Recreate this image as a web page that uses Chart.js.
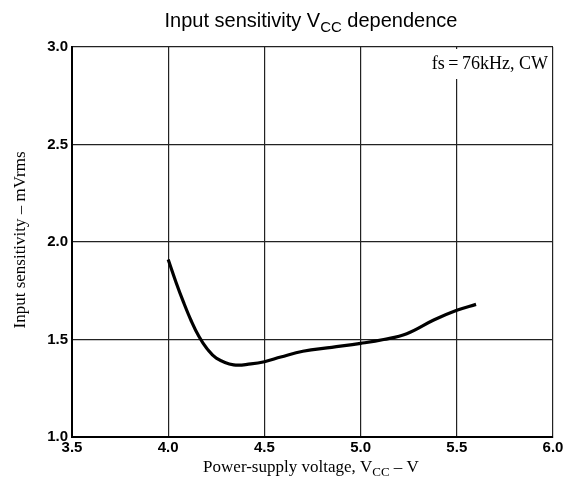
<!DOCTYPE html>
<html>
<head>
<meta charset="utf-8">
<script src="https://cdn.jsdelivr.net/npm/chart.js@4"></script>
<style>
  html, body { margin: 0; padding: 0; background: #fff; }
  #wrap { width: 569px; height: 483px; }
</style>
</head>
<body>
<div id="wrap"><canvas id="chart" width="569" height="483"></canvas></div>
<script>
// Dados
const vcc = [4.0, 4.04, 4.08, 4.12, 4.16, 4.2, 4.25, 4.34, 4.43, 4.5, 4.585, 4.7, 4.85, 5.0, 5.12, 5.24, 5.38, 5.5, 5.6];
const sensitivity = [1.91, 1.795, 1.69, 1.595, 1.515, 1.455, 1.405, 1.37, 1.375, 1.386, 1.41, 1.44, 1.46, 1.48, 1.50, 1.53, 1.60, 1.65, 1.68];
const xRange = [3.5, 6.0];
const yRange = [1.0, 3.0];
const tickStep = 0.5;

// Textos (com subscrito)
const titleParts = [['Input sensitivity V', false], ['CC', true], [' dependence', false]];
const xTitleParts = [['Power-supply voltage, V', false], ['CC', true], [' \u2013 V', false]];
const yTitle = 'Input sensitivity \u2013 mVrms';
const note = 'fs\u2009=\u200976kHz, CW';

const SANS = '"Liberation Sans", Arial, sans-serif';
const SERIF = '"Liberation Serif", "Times New Roman", serif';

function drawParts(ctx, parts, cx, y, size, family) {
    let total = 0;
    parts.forEach(([t, sub]) => {
        ctx.font = `${sub ? Math.round(size * 0.75) : size}px ${family}`;
        total += ctx.measureText(t).width;
    });
    let x = cx - total / 2;
    ctx.textAlign = 'left';
    ctx.textBaseline = 'alphabetic';
    parts.forEach(([t, sub]) => {
        ctx.font = `${sub ? Math.round(size * 0.75) : size}px ${family}`;
        ctx.fillText(t, x, sub ? y + size * 0.25 : y);
        x += ctx.measureText(t).width;
    });
}

const textPlugin = {
    id: 'textos',
    afterDraw(chart) {
        const ctx = chart.ctx;
        const area = chart.chartArea;
        ctx.save();
        ctx.fillStyle = '#000';
        drawParts(ctx, titleParts, 311, 27, 20, SANS);
        drawParts(ctx, xTitleParts, 311, 472, 17, SERIF);

        ctx.save();
        ctx.translate(21, 240);
        ctx.rotate(-Math.PI / 2);
        ctx.font = `17px ${SERIF}`;
        ctx.textAlign = 'center';
        ctx.textBaseline = 'middle';
        ctx.fillText(yTitle, 0, 0);
        ctx.restore();

        ctx.font = `18px ${SERIF}`;
        const w = ctx.measureText(note).width;
        ctx.fillStyle = '#fff';
        ctx.fillRect(area.right - w - 8, area.top + 2, w + 6, 30);
        ctx.fillStyle = '#000';
        ctx.textAlign = 'right';
        ctx.textBaseline = 'alphabetic';
        ctx.fillText(note, area.right - 5, area.top + 22);
        ctx.restore();
    }
};

const ctx = document.getElementById('chart').getContext('2d');
new Chart(ctx, {
    type: 'line',
    data: {
        datasets: [{
            data: vcc.map((v, i) => ({ x: v, y: sensitivity[i] })),
            borderColor: '#000',
            borderWidth: 3.2,
            pointRadius: 0,
            fill: false,
            tension: 0.4
        }]
    },
    options: {
        responsive: false,
        animation: false,
        layout: { padding: { top: 47, right: 16, left: 0, bottom: 0 } },
        plugins: {
            legend: { display: false },
            title: { display: false },
            tooltip: { enabled: false }
        },
        scales: {
            x: {
                type: 'linear',
                min: xRange[0],
                max: xRange[1],
                afterFit: s => { s.height = 46; },
                ticks: {
                    stepSize: tickStep,
                    padding: 2,
                    color: '#000',
                    font: { family: SANS, size: 15, weight: 'bold' },
                    callback: v => v.toFixed(1)
                },
                grid: { color: '#222', lineWidth: 1.2, drawTicks: false },
                border: { color: '#000', width: 2 }
            },
            y: {
                min: yRange[0],
                max: yRange[1],
                afterFit: s => { s.width = 72; },
                ticks: {
                    stepSize: tickStep,
                    padding: 4,
                    color: '#000',
                    font: { family: SANS, size: 15, weight: 'bold' },
                    callback: v => v.toFixed(1)
                },
                grid: { color: '#222', lineWidth: 1.2, drawTicks: false },
                border: { color: '#000', width: 2 }
            }
        }
    },
    plugins: [textPlugin]
});
</script>
</body>
</html>
